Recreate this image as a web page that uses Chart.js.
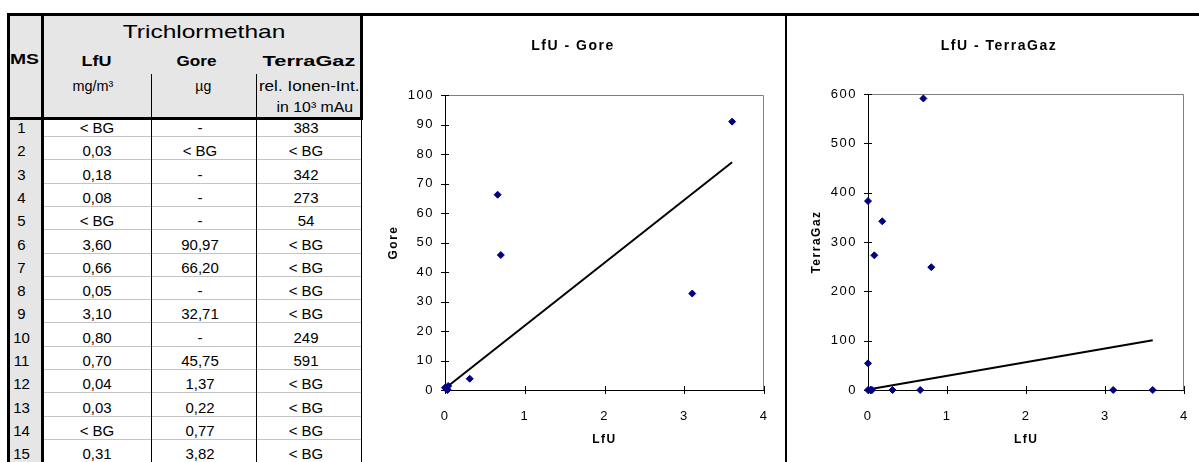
<!DOCTYPE html>
<html>
<head>
<meta charset="utf-8">
<script src="https://cdn.jsdelivr.net/npm/chart.js@4.4.1/dist/chart.umd.min.js"></script>
<style>
  body { margin: 0; background: #fff; width: 1199px; height: 462px; overflow: hidden; position: relative;
         font-family: "Liberation Sans", Arial, sans-serif; color: #000; }
  .ln { position: absolute; }
  .t { position: absolute; text-align: center; white-space: nowrap; }
  .t span { display: inline-block; }
  canvas { position: absolute; }
</style>
</head>
<body>
<div id="sheet"></div>
<canvas id="chartGore" width="421" height="446" style="left:364px;top:16px"></canvas>
<canvas id="chartTerra" width="412" height="446" style="left:787px;top:16px"></canvas>
<script>
'use strict';

// table columns (as printed)
var msRows = ['1', '2', '3', '4', '5', '6', '7', '8', '9', '10', '11', '12', '13', '14', '15'];
var lfuCol = ['< BG', '0,03', '0,18', '0,08', '< BG', '3,60', '0,66', '0,05', '3,10', '0,80', '0,70', '0,04', '0,03', '< BG', '0,31'];
var goreCol = ['-', '< BG', '-', '-', '-', '90,97', '66,20', '-', '32,71', '-', '45,75', '1,37', '0,22', '0,77', '3,82'];
var terraCol = ['383', '< BG', '342', '273', '54', '< BG', '< BG', '< BG', '< BG', '249', '591', '< BG', '< BG', '< BG', '< BG'];

// axes
var xAxisMax = 4, xAxisStep = 1;
var goreAxisMax = 100, goreAxisStep = 10;
var terraAxisMax = 600, terraAxisStep = 100;

// linear trend lines
var goreTrendX = [0, 3.6];
var goreTrendY = [0.5, 77.2];
var terraTrendX = [0, 3.6];
var terraTrendY = [1, 101];

var sheet = document.getElementById('sheet');

function rect(x, y, w, h, color) {
  var d = document.createElement('div');
  d.className = 'ln';
  d.style.cssText = 'left:' + x + 'px;top:' + y + 'px;width:' + w + 'px;height:' + h + 'px;background:' + color;
  sheet.appendChild(d);
}

function label(str, cx, cy, font, sx) {
  var d = document.createElement('div');
  d.className = 't';
  d.style.font = font + ' "Liberation Sans", Arial, sans-serif';
  d.style.left = (cx - 100) + 'px';
  d.style.top = (cy - 10) + 'px';
  d.style.width = '200px';
  d.style.height = '20px';
  d.style.lineHeight = '20px';
  var s = document.createElement('span');
  s.textContent = str;
  if (sx) s.style.transform = 'scaleX(' + sx + ')';
  d.appendChild(s);
  sheet.appendChild(d);
}

// --- table ---
rect(10, 16, 350, 101, '#e6e6e6');
rect(10, 120, 31, 342, '#e6e6e6');

var rowPitch = 23.3;
for (var i = 0; i < msRows.length; i++) {
  var cy = 128 + rowPitch * i;
  rect(44, Math.round(cy + 8), 317, 1, '#c4c4c4');
  label(msRows[i], 21.5, cy, '15px', 1);
  label(lfuCol[i], 97, cy, '15px', 1);
  label(goreCol[i], 200, cy, '15px', 1);
  label(terraCol[i], 306, cy, '15px', 1);
}

rect(7, 13, 1192, 3, '#000');
rect(7, 13, 3, 449, '#000');
rect(41, 13, 3, 449, '#000');
rect(7, 117, 356, 3, '#000');
rect(360, 13, 3, 107, '#000');
rect(361, 120, 1, 342, '#000');
rect(151, 74, 1, 388, '#000');
rect(256, 74, 1, 388, '#000');
rect(785, 13, 2, 449, '#000');

label('Trichlormethan', 204.5, 31.5, '19px', 1.29);
label('MS', 24.5, 59, 'bold 14px', 1.38);
label('LfU', 96.7, 60.5, 'bold 15px', 1.2);
label('Gore', 197, 60.5, 'bold 15px', 1.14);
label('TerraGaz', 308.5, 60.5, 'bold 15px', 1.45);
label('mg/m³', 92.5, 86, '14px', 1.03);
label('µg', 203.3, 86, '14px', 1);
label('rel. Ionen-Int.', 309, 86, '14px', 1.22);
label('in 10³ mAu', 315, 107, '14px', 1.13);

// --- charts ---
function toNum(s) {
  if (s === '-') return null;
  if (s.indexOf('BG') >= 0) return 0;
  return parseFloat(s.replace(',', '.'));
}

function pairs(xs, ys) {
  var out = [];
  for (var k = 0; k < xs.length; k++) {
    var x = toNum(xs[k]), y = toNum(ys[k]);
    if (x !== null && y !== null) out.push({ x: x, y: y });
  }
  return out;
}

function line(xs, ys) {
  return xs.map(function (x, k) { return { x: x, y: ys[k] }; });
}

Chart.defaults.font.family = '"Liberation Sans", Arial, sans-serif';
Chart.defaults.color = '#000';

var excelFrame = {
  id: 'excelFrame',
  beforeDraw: function (chart) {
    chart.ctx.letterSpacing = '1.5px';
  },
  beforeDatasetsDraw: function (chart) {
    var ctx = chart.ctx, a = chart.chartArea;
    var xs = chart.scales.x, ys = chart.scales.y;
    ctx.save();
    ctx.lineWidth = 1;
    ctx.strokeStyle = '#808080';
    ctx.beginPath();
    ctx.moveTo(a.left, Math.round(a.top) + 0.5);
    ctx.lineTo(Math.round(a.right) - 0.5, Math.round(a.top) + 0.5);
    ctx.lineTo(Math.round(a.right) - 0.5, a.bottom);
    ctx.stroke();
    ctx.strokeStyle = '#000';
    ctx.beginPath();
    xs.ticks.forEach(function (t) {
      var px = Math.round(xs.getPixelForValue(t.value)) + 0.5;
      ctx.moveTo(px, a.bottom - 4);
      ctx.lineTo(px, a.bottom + 4);
    });
    ys.ticks.forEach(function (t) {
      var py = Math.round(ys.getPixelForValue(t.value)) + 0.5;
      ctx.moveTo(a.left - 4, py);
      ctx.lineTo(a.left + 4, py);
    });
    ctx.stroke();
    ctx.restore();
  }
};

function makeChart(id, title, yTitle, points, trend, yMax, yStep, pad, yWidth, yTitlePad, titleBottom) {
  return new Chart(document.getElementById(id), {
    type: 'scatter',
    data: {
      datasets: [{
        data: points,
        pointStyle: 'rectRot',
        pointRadius: 3.5,
        backgroundColor: '#000080',
        borderColor: '#000080',
        borderWidth: 1,
        clip: false
      }, {
        data: trend,
        showLine: true,
        borderColor: '#000',
        borderWidth: 2,
        pointRadius: 0,
        fill: false,
        clip: false
      }]
    },
    options: {
      responsive: false,
      animation: false,
      events: [],
      layout: { padding: { left: pad.left, right: pad.right, top: 0, bottom: 0 } },
      plugins: {
        legend: { display: false },
        tooltip: { enabled: false },
        title: {
          display: true,
          text: title,
          color: '#000',
          font: { size: 14, weight: 'bold' },
          padding: { top: 21.6, bottom: titleBottom }
        }
      },
      scales: {
        x: {
          type: 'linear',
          min: 0,
          max: xAxisMax,
          ticks: { stepSize: xAxisStep, padding: 11, color: '#000', font: { size: 13 } },
          grid: { display: false },
          border: { display: true, color: '#000', width: 1 },
          title: { display: true, text: 'LfU', color: '#000', font: { size: 12, weight: 'bold' }, padding: { top: 0, bottom: 15.3 } },
          afterFit: function (s) { s.height = 72; }
        },
        y: {
          type: 'linear',
          min: 0,
          max: yMax,
          ticks: { stepSize: yStep, padding: 3, color: '#000', font: { size: 13 } },
          grid: { display: false },
          border: { display: true, color: '#000', width: 1 },
          title: { display: true, text: yTitle, color: '#000', font: { size: 12, weight: 'bold' }, padding: { top: yTitlePad, bottom: 0 } },
          afterFit: function (s) { s.width = yWidth; }
        }
      }
    },
    plugins: [excelFrame]
  });
}

makeChart('chartGore', 'LfU - Gore', 'Gore', pairs(lfuCol, goreCol), line(goreTrendX, goreTrendY),
  goreAxisMax, goreAxisStep, { left: 18, right: 21 }, 63, 4, 40.6);
makeChart('chartTerra', 'LfU - TerraGaz', 'TerraGaz', pairs(lfuCol, terraCol), line(terraTrendX, terraTrendY),
  terraAxisMax, terraAxisStep, { left: 22, right: 10 }, 59, 0.5, 39.6);
</script>
</body>
</html>
